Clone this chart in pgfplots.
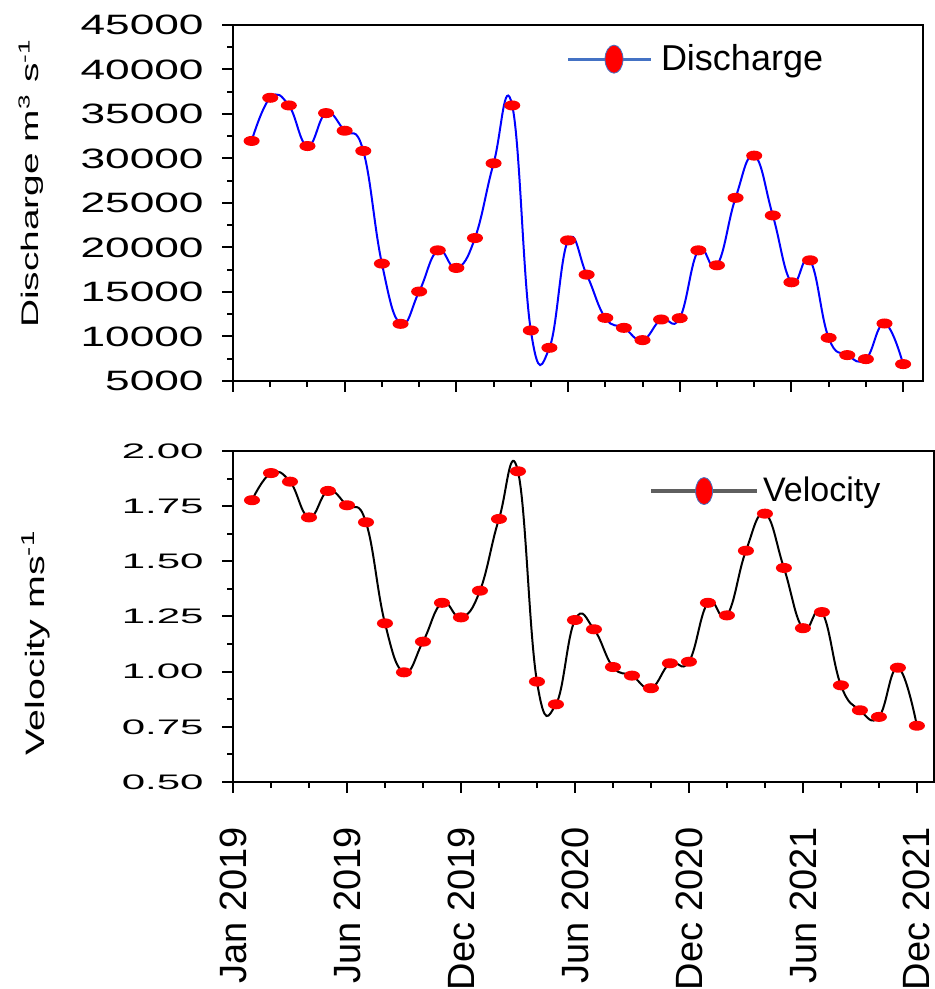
\documentclass[border=0pt]{standalone}
\usepackage{fontspec}
\setmainfont{Liberation Sans}
\usepackage{graphicx}
\usepackage{pgfplots}
\usepackage{pgfplotstable}
\pgfplotsset{compat=1.18}

\definecolor{legblue}{HTML}{4472C4}
\definecolor{leggrey}{HTML}{5F5F5F}

\pgfplotstableread{
x y
1 31970
2 36820
3 35960
4 31400
5 35100
6 33120
7 30850
8 18190
9 11420
10 15050
11 19680
12 17700
13 21060
14 29460
15 35960
16 10680
17 8730
18 20800
19 16950
20 12090
21 10970
22 9590
23 11910
24 12060
25 19680
26 18000
27 25580
28 30320
29 23600
30 16090
31 18560
32 9850
33 7910
34 7460
35 11460
36 6900
}\discharge

\pgfplotstableread{
x y
1 1.777
2 1.900
3 1.861
4 1.699
5 1.819
6 1.754
7 1.677
8 1.219
9 0.997
10 1.136
11 1.312
12 1.246
13 1.367
14 1.692
15 1.908
16 0.955
17 0.852
18 1.234
19 1.192
20 1.021
21 0.982
22 0.925
23 1.038
24 1.045
25 1.312
26 1.255
27 1.548
28 1.716
29 1.470
30 1.197
31 1.270
32 0.938
33 0.825
34 0.795
35 1.018
36 0.755
}\velocity

\pgfplotsset{
  common/.style={
    scale only axis,
    anchor=south west,
    tick pos=left,
    tick align=outside,
    major tick length=5.5pt,
    minor tick length=3pt,
    tick style={black, line width=1pt},
    axis line style={line width=1pt},
    xtick={0,6,12,18,24,30,36},
    minor x tick num=2,
    minor y tick num=1,
    scaled ticks=false,
    yticklabel style={inner sep=0pt},
    legend style={draw=none, fill=none, inner sep=0pt},
  }
}

\begin{document}
\begin{tikzpicture}
\useasboundingbox (0,0) rectangle (467.5pt,494.5pt);

\begin{axis}[
  common,
  at={(116.5pt,304pt)},
  width=345pt, height=178pt,
  xmin=0, xmax=37.07,
  ymin=5000, ymax=45000,
  xticklabels={},
  ytick={5000,10000,15000,20000,25000,30000,35000,40000,45000},
  yticklabel={\scalebox{1.58}[1]{\pgfmathprintnumber[fixed,precision=0,1000 sep={},assume math mode=true]{\tick}}},
  yticklabel style={font=\fontsize{14}{16}\selectfont},
  yticklabel shift=9pt,
  ylabel={\scalebox{1.62}[1]{Discharge m\textsuperscript{3} s\textsuperscript{-1}}},
  ylabel style={at={(axis description cs:-0.293,0.555)}, anchor=center, font=\fontsize{12}{14}\selectfont},
  legend style={at={(axis description cs:0.4826,0.904)}, anchor=west, font=\fontsize{18}{20}\selectfont},
  legend image code/.code={
    \draw[legblue, line width=1.6pt] (0pt,0pt) -- (41.5pt,0pt);
    \filldraw[fill=red, draw=legblue, line width=0.4pt] (23pt,0pt) ellipse (4.5pt and 7pt);
    \path (44pt,0pt);
  },
]
\addplot[blue, line width=1pt, smooth, tension=0.75, mark=*, mark size=2pt,
  mark options={fill=red, draw=red, xscale=1.75, solid}] table {\discharge};
\addlegendentry{Discharge}
\end{axis}

\begin{axis}[
  common,
  at={(116.5pt,103.5pt)},
  width=350.5pt, height=165.5pt,
  xmin=0, xmax=36.9,
  ymin=0.5, ymax=2,
  xticklabels={Jan 2019, Jun 2019, Dec 2019, Jun 2020, Dec 2020, Jun 2021, Dec 2021},
  xticklabel style={rotate=90, anchor=east, inner sep=0pt, font=\fontsize{19}{22}\selectfont},
  xticklabel shift=17pt,
  ytick={0.5,0.75,1,1.25,1.5,1.75,2},
  yticklabel={\scalebox{2.0}[1]{\pgfmathprintnumber[fixed,fixed zerofill,precision=2,assume math mode=true]{\tick}}},
  yticklabel style={font=\fontsize{10.5}{12}\selectfont},
  yticklabel shift=9pt,
  ylabel={\scalebox{1.48}[1]{Velocity ms\textsuperscript{-1}}},
  ylabel style={at={(axis description cs:-0.281,0.421)}, anchor=center, font=\fontsize{13.3}{15}\selectfont},
  legend style={at={(axis description cs:0.593,0.879)}, anchor=west, font=\fontsize{17}{19}\selectfont},
  legend image code/.code={
    \draw[leggrey, line width=2pt] (0pt,0pt) -- (53pt,0pt);
    \filldraw[fill=red, draw=legblue, line width=0.4pt] (26.5pt,0pt) ellipse (4.25pt and 6.75pt);
  },
]
\addplot[black, line width=1pt, smooth, tension=0.75, mark=*, mark size=2pt,
  mark options={fill=red, draw=red, xscale=1.75, solid}] table {\velocity};
\addlegendentry{Velocity}
\end{axis}
\end{tikzpicture}
\end{document}
